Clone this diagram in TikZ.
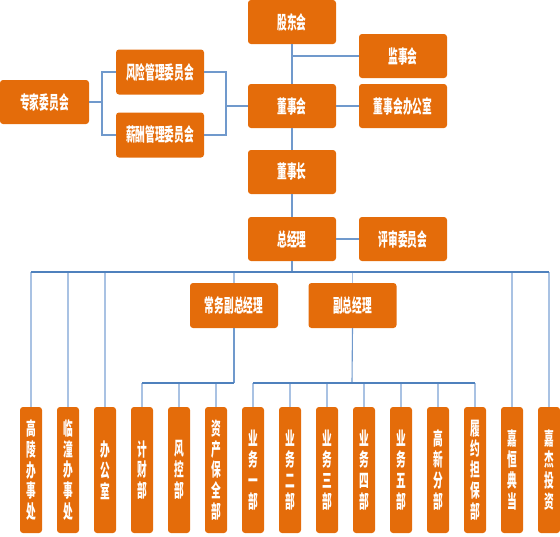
\documentclass[tikz,border=0pt]{standalone}
\usepackage{fontspec}
\usepackage{graphicx}
\newfontfamily\cjk{Noto Sans CJK SC}
\definecolor{boxorange}{HTML}{E46C0A}
\definecolor{linetop}{HTML}{7099CC}
\definecolor{linebus}{HTML}{4F81BD}
\definecolor{linedrop}{HTML}{A9C2E3}
\newcommand\hlab[1]{\scalebox{1}[1.9]{#1}}
\newcommand\vlab[1]{\scalebox{1}[1.9]{\parbox[c]{1.1em}{\centering\fontsize{9.7}{11}\selectfont #1}}}
\tikzset{
  obox/.style={rounded corners=3pt, fill=boxorange, draw=none, inner sep=0pt,
    text=white, font=\cjk\bfseries\fontsize{9.7}{11}\selectfont},
  hbox/.style={obox, minimum width=88pt, minimum height=44pt},
  vbox/.style={obox, minimum width=22pt, minimum height=126pt},
  topline/.style={draw=linetop, line width=1.1pt},
  busline/.style={draw=linebus, line width=1.3pt},
  dropline/.style={draw=linedrop, line width=1.1pt}
}
\begin{document}
\begin{tikzpicture}[x=1pt, y=-1pt]
\useasboundingbox (0,0) rectangle (560,536);
% top nodes
\node[hbox] (gudong) at (292,22) {\hlab{股东会}};
\node[hbox] (jianshi) at (403,56) {\hlab{监事会}};
\node[hbox] (dongshi) at (292,106) {\hlab{董事会}};
\node[hbox] (dsbgs) at (403,106) {\hlab{董事会办公室}};
\node[hbox] (dsz) at (292,172) {\hlab{董事长}};
\node[hbox] (zjl) at (292,239) {\hlab{总经理}};
\node[hbox] (psw) at (403,239) {\hlab{评审委员会}};
\node[hbox, minimum width=89pt] (zhuanjia) at (44.5,102) {\hlab{专家委员会}};
\node[hbox, minimum height=45pt] (fengxian) at (160,72) {\hlab{风险管理委员会}};
\node[hbox, minimum height=45pt] (xinchou) at (160,135) {\hlab{薪酬管理委员会}};
\node[hbox, minimum height=45pt] (cwf) at (234,305.5) {\hlab{常务副总经理}};
\node[hbox, minimum height=45pt] (fzjl) at (352.5,305.5) {\hlab{副总经理}};
% bottom nodes
\node[vbox] (b0) at (31,470) {\vlab{高\\陵\\办\\事\\处}};
\node[vbox] (b1) at (68,470) {\vlab{临\\潼\\办\\事\\处}};
\node[vbox] (b2) at (105,470) {\vlab{办\\公\\室}};
\node[vbox] (b3) at (142,470) {\vlab{计\\财\\部}};
\node[vbox] (b4) at (179,470) {\vlab{风\\控\\部}};
\node[vbox] (b5) at (216,470) {\vlab{资\\产\\保\\全\\部}};
\node[vbox] (b6) at (253,470) {\vlab{业\\务\\一\\部}};
\node[vbox] (b7) at (290,470) {\vlab{业\\务\\二\\部}};
\node[vbox] (b8) at (327,470) {\vlab{业\\务\\三\\部}};
\node[vbox] (b9) at (364,470) {\vlab{业\\务\\四\\部}};
\node[vbox] (b10) at (401,470) {\vlab{业\\务\\五\\部}};
\node[vbox] (b11) at (438,470) {\vlab{高\\新\\分\\部}};
\node[vbox] (b12) at (475,470) {\vlab{履\\约\\担\\保\\部}};
\node[vbox] (b13) at (512,470) {\vlab{嘉\\恒\\典\\当}};
\node[vbox] (b14) at (549,470) {\vlab{嘉\\杰\\投\\资}};
% coordinates
\coordinate (J) at (292,56);
\coordinate (L) at (102,102);
\coordinate (R) at (226,106);
\coordinate (bus) at (292,272);
\coordinate (busA) at (234,383);
\coordinate (busB) at (352,383);
% top connectors
\draw[topline] (gudong) -- (dongshi);
\draw[topline] (J) -- (jianshi.west);
\draw[topline] (dongshi.east) -- (dsbgs.west);
\draw[topline] (dongshi) -- (dsz);
\draw[topline] (dsz) -- (zjl);
\draw[topline] (zjl.east) -- (psw.west);
\draw[topline] (zhuanjia.east) -- (L);
\draw[topline] (fengxian.west) -| (L) |- (xinchou.west);
\draw[topline] (fengxian.east) -| (R) |- (xinchou.east);
\draw[topline] (R) -- (dongshi.west);
\draw[topline] (zjl.south) -- (bus);
% drops from main bus
\foreach \b in {b0,b1,b2,b13,b14}
  \draw[dropline] (\b.north |- bus) -- (\b.north);
\draw[dropline] (cwf.north |- bus) -- (cwf.north);
\draw[dropline] (fzjl.north |- bus) -- (fzjl.north);
\draw[busline] (b0.north |- bus) -- (b14.north |- bus);
% sub buses
\draw[topline] (cwf.south) -- (busA);
\draw[topline] (fzjl.south) -- (busB);
\foreach \b in {b3,b4,b5}
  \draw[dropline] (\b.north |- busA) -- (\b.north);
\foreach \b in {b6,b7,b8,b9,b10,b11,b12}
  \draw[dropline] (\b.north |- busB) -- (\b.north);
\draw[busline] (b3.north |- busA) -- (busA);
\draw[busline] (b6.north |- busB) -- (b12.north |- busB);
\end{tikzpicture}
\end{document}
